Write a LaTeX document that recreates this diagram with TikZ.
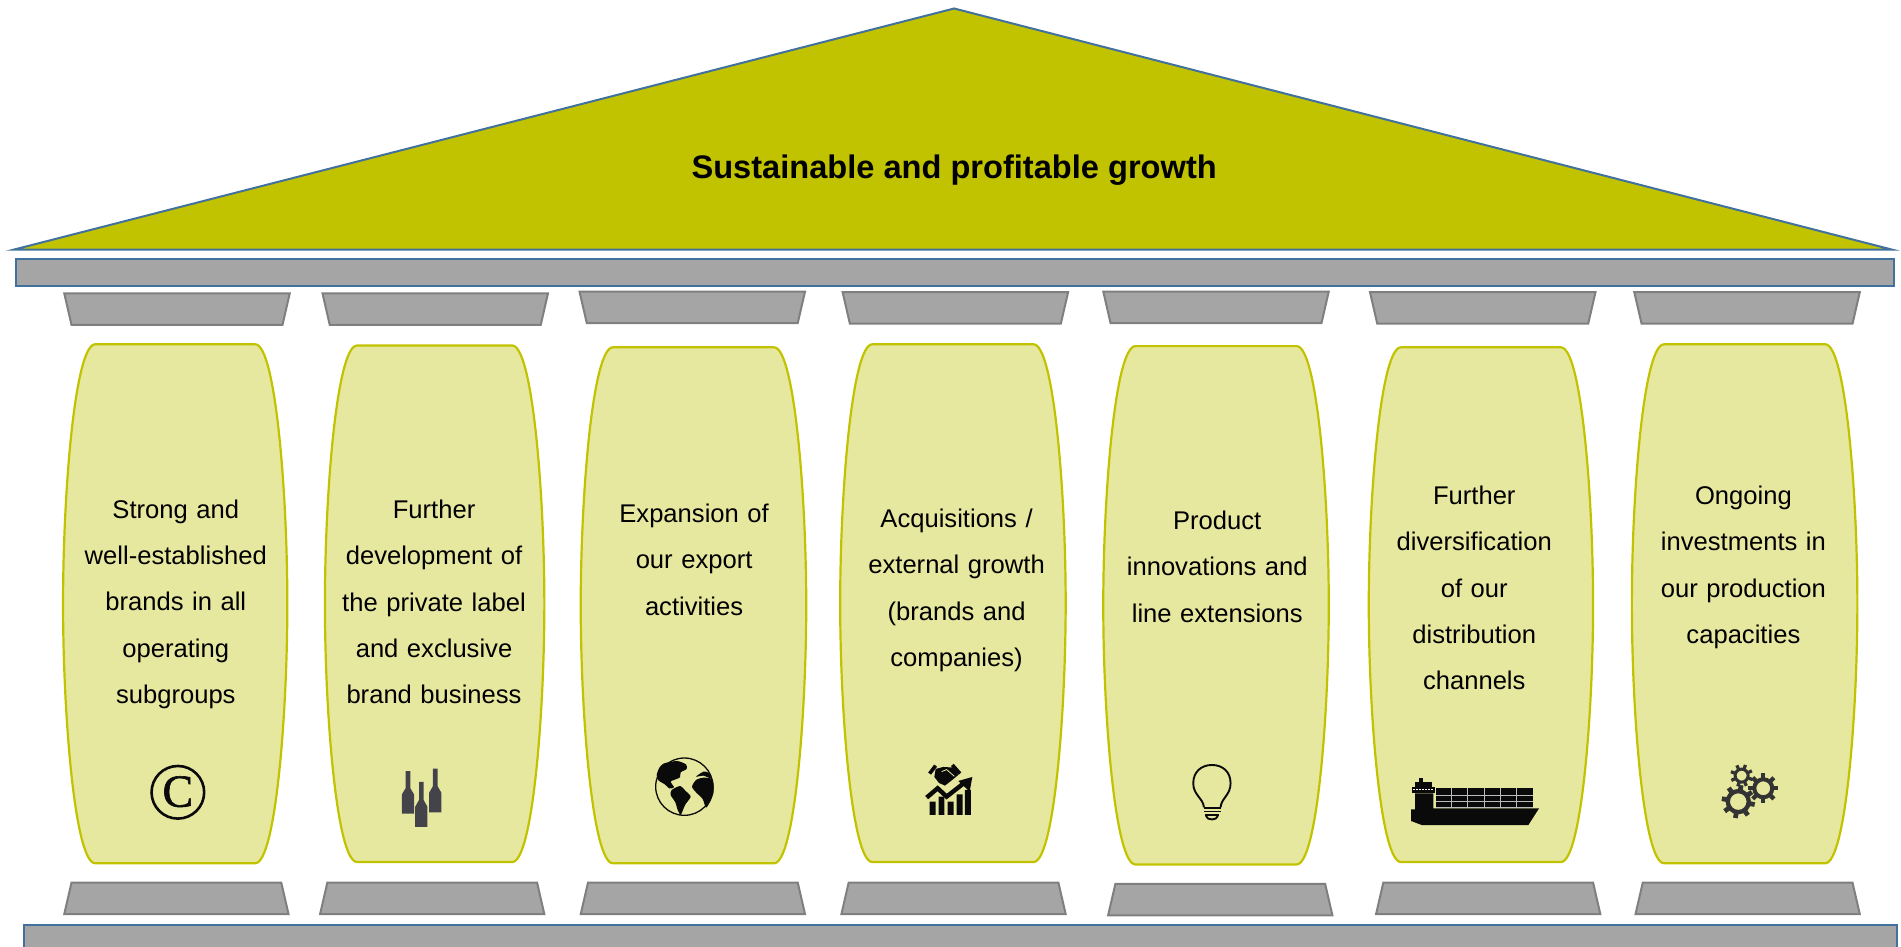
\documentclass[tikz,border=0pt]{standalone}
\usepackage{fontspec}
\setmainfont{Liberation Sans}
\newfontfamily\ser[FakeBold=1.3]{Liberation Serif}
\definecolor{roof}{HTML}{C2C300}
\definecolor{edgeb}{HTML}{41719C}
\definecolor{beam}{HTML}{A5A5A5}
\definecolor{capb}{HTML}{7F7F7F}
\definecolor{pill}{HTML}{E7E89F}
\definecolor{pille}{HTML}{C2C300}
\definecolor{icon}{HTML}{0A0A0A}
\definecolor{geargray}{HTML}{333333}
\definecolor{bottlec}{HTML}{45434A}
\definecolor{gridc}{HTML}{BDBDBD}
\tikzset{
 beamst/.style={draw=edgeb,fill=beam,line width=2pt},
 roofst/.style={draw=edgeb,fill=roof,line width=2pt,line join=miter},
 capst/.style={draw=capb,fill=beam,line width=2pt},
 pillst/.style={draw=pille,fill=pill,line width=2.2pt},
 lab/.style={align=center,font=\fontsize{25.6}{46.4}\selectfont,text width=220pt,inner sep=0pt},
 ttl/.style={font=\bfseries\fontsize{32.6}{38}\selectfont,inner sep=0pt}
}
\newcommand{\pillar}[5]{%
 \path[pillst] ({#2+26.5},#4) -- ({#3-26.5},#4)
  .. controls ({#3-10},#4) and (#3,{#4+120}) .. (#3,{(#4+#5)/2})
  .. controls (#3,{#5-120}) and ({#3-10},#5) .. ({#3-26.5},#5)
  -- ({#2+26.5},#5)
  .. controls ({#2+10},#5) and (#2,{#5-120}) .. (#2,{(#4+#5)/2})
  .. controls (#2,{#4+120}) and ({#2+10},#4) .. ({#2+26.5},#4) -- cycle;
 \coordinate (#1) at ({(#2+#3)/2},{(#4+#5)/2});}
\newcommand{\capt}[3]{\path[capst] (#1,#2) -- ({#1+186},#2) -- ({#1+180},#3) -- ({#1+6},#3) -- cycle;}
\newcommand{\basis}[3]{\path[capst] ({#1+6},#2) -- ({#1+179},#2) -- ({#1+185},#3) -- (#1,#3) -- cycle;}
\newcommand{\bottle}[3]{\fill[bottlec] ({#1-1.9},#2) -- ({#1+1.9},#2) -- ({#1+1.9},{#2+0.40*(#3-#2)}) -- ({#1+5},{#2+0.55*(#3-#2)}) -- ({#1+5},#3) -- ({#1-5},#3) -- ({#1-5},{#2+0.55*(#3-#2)}) -- ({#1-1.9},{#2+0.40*(#3-#2)}) -- cycle;}
% cx cy outer body hole rotation; units are 1/3 pt
\newcommand{\gearicon}[6]{%
 \draw[geargray,line width={(#4-#5)/3*1pt}] (#1,#2) circle ({(#4+#5)/2});
 \foreach \a in {0,45,...,315}{\draw[geargray,line width={#3*0.095pt}] ({#1+(#4-2)*cos(\a+#6)},{#2+(#4-2)*sin(\a+#6)}) -- ({#1+#3*cos(\a+#6)},{#2+#3*sin(\a+#6)});}}
\begin{document}
\begin{tikzpicture}[x=1.2124pt,y=-1.2124pt]
\useasboundingbox (0,0) rectangle (1568,780.3);
\clip (0,0) rectangle (1568,780.3);
\path[roofst] (11,206) -- (787,7) -- (1561,206) -- cycle;
\node[ttl] (title) at (787,140) {Sustainable and profitable growth};
\path[beamst] (13,214) rectangle (1562,236);
\path[beamst] (20,763) rectangle (1565,800);
\capt{53}{242}{268}\capt{266}{242}{268}\capt{478}{240.5}{266.5}\capt{695}{241}{267}\capt{910}{240.5}{266.5}\capt{1130}{241}{267}\capt{1348}{241}{267}
\basis{53}{728}{754}\basis{264}{728}{754}\basis{479}{728}{754}\basis{694}{728}{754}\basis{914}{729}{755}\basis{1135}{728}{754}\basis{1349}{728}{754}
\pillar{p1}{52}{237}{284}{712}
\pillar{p2}{268}{449}{285}{711}
\pillar{p3}{479}{665}{286.5}{712}
\pillar{p4}{693}{879}{284}{711}
\pillar{p5}{910}{1096}{285.5}{713}
\pillar{p6}{1129}{1314}{286.5}{711}
\pillar{p7}{1346}{1532}{284}{712}
\node[lab,anchor=center] (t1) at (145,498.5) {Strong and\\well-established\\brands in all\\operating\\subgroups};
\node[lab,anchor=center] (t2) at (358,496.5) {Further\\development of\\the private label\\and exclusive\\brand business};
\node[lab,anchor=center] (t3) at (572.5,461.5) {Expansion of\\our export\\activities};
\node[lab,anchor=center] (t4) at (789,487) {Acquisitions /\\external growth\\(brands and\\companies)};
\node[lab,anchor=center] (t5) at (1004,467.5) {Product\\innovations and\\line extensions};
\node[lab,anchor=center] (t6) at (1216,485) {Further\\diversification\\of our\\distribution\\channels};
\node[lab,anchor=center] (t7) at (1438,468) {Ongoing\\investments in\\our production\\capacities};
% copyright icon
\draw[icon,line width=2.6pt] (146.7,653.5) circle (21.7);
\node[inner sep=0pt,font=\ser\fontsize{46}{46}\selectfont,icon] (c) at (146.7,653) {C};
% bottles
\bottle{336.5}{636}{671}\bottle{347.5}{645}{682}\bottle{359}{634}{670}
% globe
\begin{scope}[shift={(527.9,614.5)},x=0.3333pt,y=-0.3333pt]
\draw[icon,line width=1.3pt] (133,125) circle (86);
\fill[icon] plot[smooth cycle,tension=0.4] coordinates {(85,52)(112,48)(138,58)(140,72)(122,82)(120,97)(107,103)(92,110)(102,127)(88,130)(73,117)(56,107)(50,90)(58,68)(70,56)};
\fill[icon] plot[smooth cycle,tension=0.4] coordinates {(95,135)(120,123)(137,138)(152,155)(137,177)(130,192)(122,210)(113,195)(106,172)(92,150)};
\fill[icon] plot[smooth cycle,tension=0.4] coordinates {(168,105)(190,98)(217,103)(221,140)(212,167)(198,188)(188,162)(168,142)(156,125)};
\fill[icon] plot[smooth cycle,tension=0.4] coordinates {(168,95)(190,80)(205,83)(213,100)(190,92)};
\end{scope}
% handshake and chart
\begin{scope}[shift={(754.7,622.7)},x=0.3333pt,y=-0.3333pt]
\draw[icon,line width=3.6pt] (44,56) -- (62,32);
\draw[icon,line width=3.6pt] (112,30) -- (135,56);
\fill[icon] (62,42) -- (85,36) -- (118,38) -- (130,60) -- (108,78) -- (90,92) -- (72,84) -- (58,66) -- cycle;
\draw[pill,line width=0.8pt] (80,50) -- (95,44) -- (118,64);
\draw[icon,line width=4.4pt] (35,128) -- (68,100) -- (95,125) -- (150,82);
\fill[icon] (130,78) -- (172,66) -- (164,110) -- cycle;
\fill[icon] (44,140) rectangle (62,180) (71,125) rectangle (88,180) (98,140) rectangle (116,180) (125,118) rectangle (143,180) (150,105) rectangle (168,180);
\end{scope}
% bulb
\begin{scope}[shift={(725.8,602.1)},x=0.3333pt,y=-0.3333pt]
\draw[icon,line width=1.9pt] (972,232) .. controls (970,205) and (940,195) .. (940,160) .. controls (940,125) and (965,105) .. (996,105) .. controls (1028,105) and (1052,125) .. (1052,160) .. controls (1052,195) and (1024,205) .. (1022,232);
\draw[icon,line width=1.7pt] (972,234) -- (1022,234) (972,245) -- (1022,245) (976,256) -- (1018,256);
\draw[icon,line width=1.9pt] (978,258) .. controls (982,272) and (1010,272) .. (1014,258);
\end{scope}
% ship
\begin{scope}[shift={(1154.8,631)},x=0.3333pt,y=-0.3333pt]
\fill[icon] (33,133) -- (33,168) -- (65,180) -- (385,180) -- (417,130) -- (100,130) -- (100,85) -- (45,85) -- (45,133) -- cycle;
\fill[icon] (35,65) rectangle (105,83);
\fill[icon] (45,50) rectangle (95,66);
\fill[icon] (58,40) rectangle (68,52);
\fill[icon] (107,68) rectangle (398,128);
\draw[white,line width=1.3pt,dash pattern=on 2pt off 1pt] (39,73.5) -- (101,73.5);
\draw[gridc,line width=0.7pt] (107,90) -- (398,90) (107,108) -- (398,108) (107,128) -- (398,128);
\draw[gridc,line width=0.7pt] (155,68) -- (155,128) (203,68) -- (203,128) (253,68) -- (253,128) (302,68) -- (302,128) (350,68) -- (350,128);
\end{scope}
% gears
\begin{scope}[shift={(1410.4,622.7)},x=0.3333pt,y=-0.3333pt]
\gearicon{85}{140}{50}{38}{25}{10}
\gearicon{160}{100}{45}{33}{21}{0}
\gearicon{95}{62}{34}{24}{15}{20}
\end{scope}
\end{tikzpicture}
\end{document}
